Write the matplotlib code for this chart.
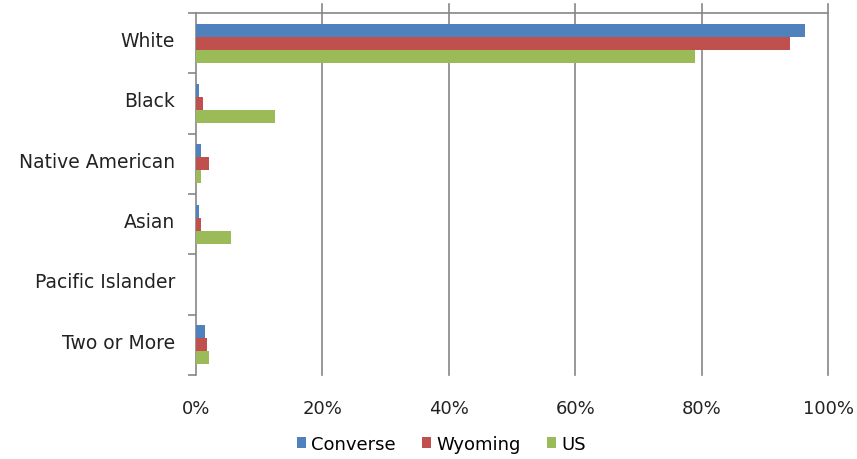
import numpy as np
import matplotlib.pyplot as plt
import matplotlib.transforms as mtransforms
from matplotlib.ticker import FuncFormatter

categories = ['White', 'Black', 'Native American', 'Asian', 'Pacific Islander', 'Two or More']
converse = [96.3, 0.5, 0.75, 0.4, 0.0, 1.4]
wyoming = [94.0, 1.05, 2.0, 0.75, 0.0, 1.75]
us = [78.9, 12.5, 0.75, 5.5, 0.0, 2.0]
series_names = ['Converse', 'Wyoming', 'US']
colors = ['#4F81BD', '#C0504D', '#9BBB59']
x_ticks = [0, 20, 40, 60, 80, 100]

plt.rcParams['font.family'] = ['DejaVu Sans']

fig = plt.figure(figsize=(8.57, 4.60), dpi=100)
ax = fig.add_axes([0.2287, 0.1826, 0.7375, 0.787])

n = len(categories)
pos = np.arange(n)
h = 0.215
for i, (vals, name, c) in enumerate(zip([converse, wyoming, us], series_names, colors)):
    ax.barh(pos + (i - 1) * h, vals, height=h, color=c, label=name, zorder=3)

ax.set_ylim(n - 0.5, -0.5)
ax.set_xlim(0, 100)
ax.set_xticks(x_ticks)
ax.xaxis.set_major_formatter(FuncFormatter(lambda v, p: f'{v:.0f}%'))
ax.tick_params(axis='x', length=0, pad=17, labelsize=13, labelcolor='#222222')

# gridlines poke a little above the top border, like the original
for xv in x_ticks[1:]:
    ax.axvline(xv, ymin=0, ymax=1.025, color='#868686', linewidth=1.2,
               clip_on=False, zorder=1)

# category boundaries carry tick marks, labels sit between them
ax.set_yticks(np.arange(-0.5, n, 1.0))
ax.set_yticklabels([])
ax.set_yticks(pos, minor=True)
ax.set_yticklabels(categories, minor=True, va='center')
ax.tick_params(axis='y', which='major', length=6, color='#868686', width=1.2)
ax.tick_params(axis='y', which='minor', length=0, pad=15, labelsize=13.5, labelcolor='#222222')
shift = mtransforms.ScaledTranslation(0, 2 / 72, fig.dpi_scale_trans)
for lbl in ax.get_yticklabels(minor=True):
    lbl.set_transform(lbl.get_transform() + shift)

for side in ['right', 'bottom']:
    ax.spines[side].set_visible(False)
for side in ['left', 'top']:
    ax.spines[side].set_color('#868686')
    ax.spines[side].set_linewidth(1.2)

fig.legend(loc='center', bbox_to_anchor=(0.515, 0.033), ncol=3, frameon=False,
           fontsize=13, handlelength=0.5, handleheight=0.5, handletextpad=0.25,
           columnspacing=1.5)

fig.savefig('out.png', dpi=100)
